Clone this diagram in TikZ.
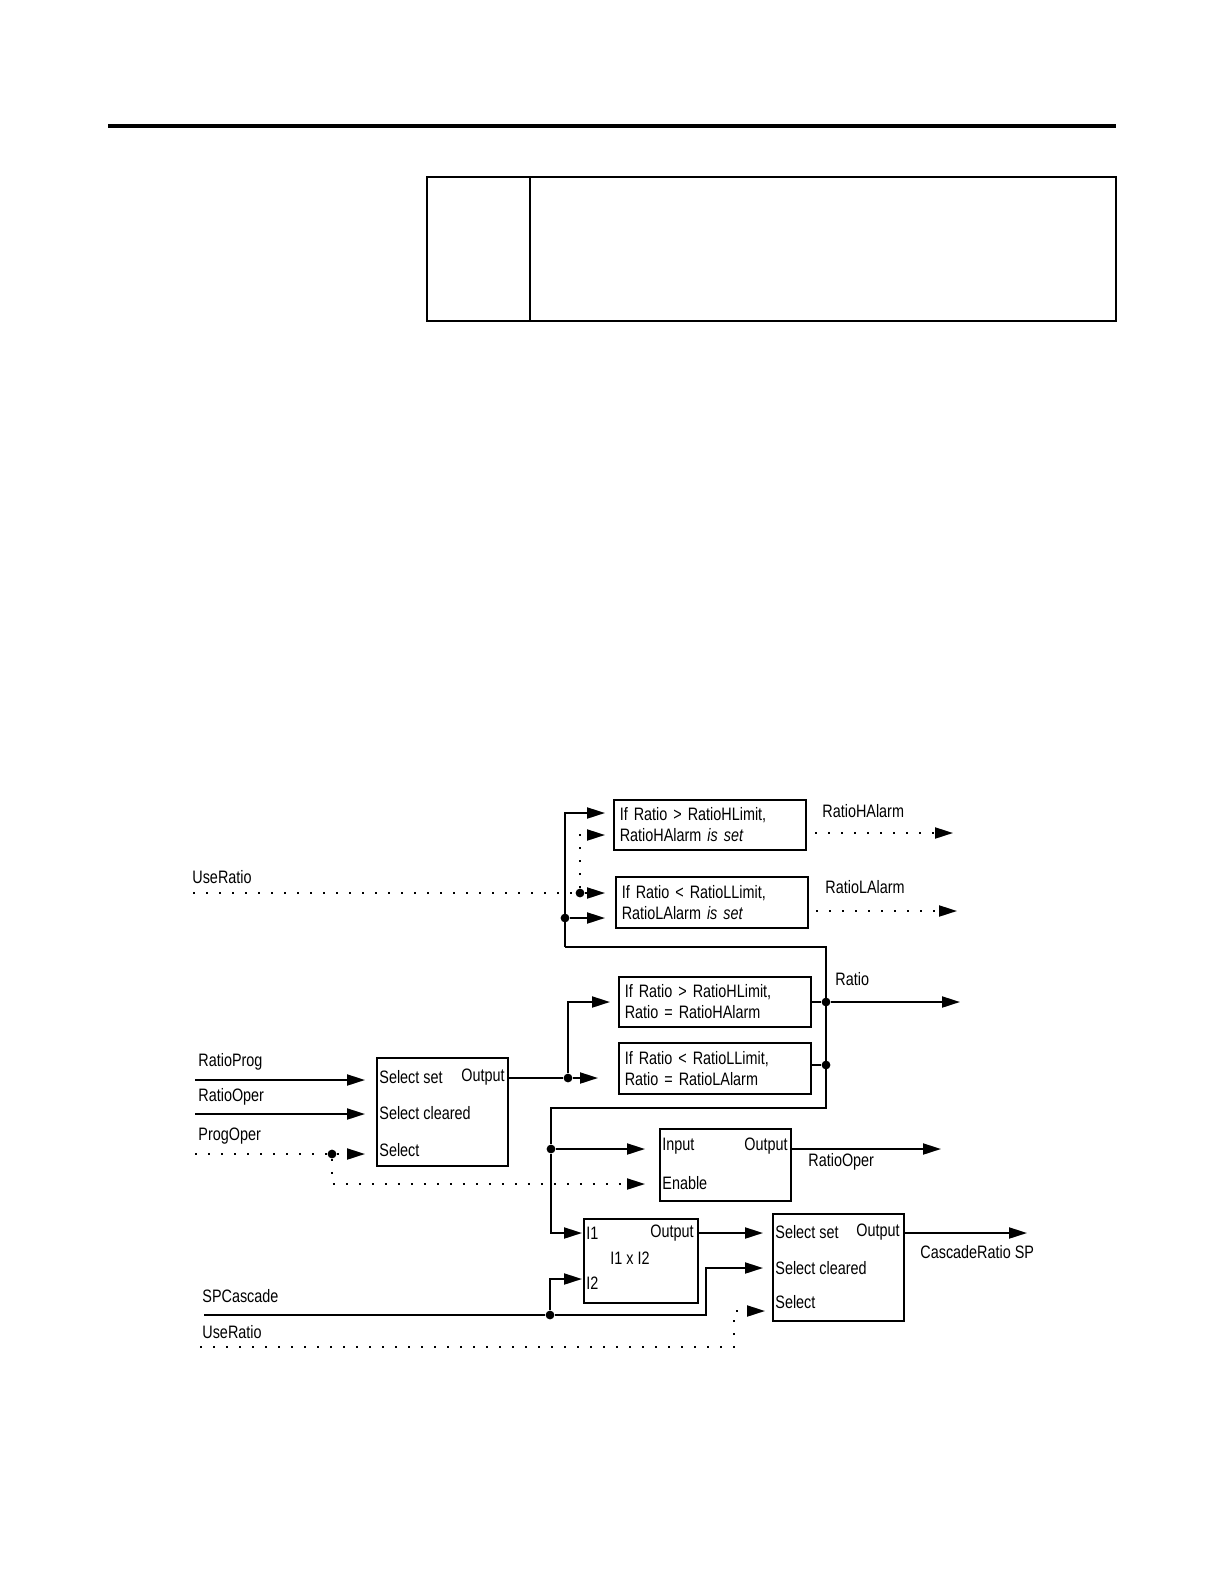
\documentclass[tikz,border=0pt]{standalone}
\usepackage{fontspec}
\setmainfont{Liberation Sans}[FakeStretch=0.8]
\usetikzlibrary{arrows.meta}

\begin{document}
\begin{tikzpicture}[
  x=0.5pt,y=-0.5pt,
  >={Triangle[length=9pt,width=5.5pt]},
  font=\fontsize{9}{10.5}\selectfont,
  wire/.style={draw,line width=1pt},
  dotwire/.style={draw,line width=1pt,dash pattern=on 1pt off 5.5pt},
  blk/.style={draw,line width=0.8pt,anchor=north west,inner sep=0pt},
  txtbox/.style={blk,align=left,inner xsep=3pt,text width=#1},
  lbl/.style={anchor=west,inner sep=0pt},
  rlbl/.style={anchor=east,inner sep=0pt},
  dot/.style={circle,fill,inner sep=0pt,minimum size=4.4pt}]

\useasboundingbox (0,0) rectangle (1224,1584);

% --- page rule and empty table ---
\fill (108,124) rectangle (1116,128);
\draw[line width=1pt] (427,177) rectangle (1116,321);
\draw[line width=1pt] (530,177) -- (530,321);

% --- alarm blocks ---
\node[txtbox=90pt,minimum height=25pt] (hiA) at (613,799)
  {If Ratio > RatioHLimit,\\ RatioHAlarm \textit{is set}};
\node[txtbox=90pt,minimum height=25.5pt] (loA) at (615,876)
  {If Ratio < RatioLLimit,\\ RatioLAlarm \textit{is set}};
\node[lbl] (hiAlbl) at (822,811) {RatioHAlarm};
\node[lbl] (loAlbl) at (825,887) {RatioLAlarm};

% --- clamp blocks ---
\node[txtbox=90pt,minimum height=25pt] (hiC) at (618,976)
  {If Ratio > RatioHLimit,\\ Ratio = RatioHAlarm};
\node[txtbox=90pt,minimum height=25.5pt] (loC) at (618,1042)
  {If Ratio < RatioLLimit,\\ Ratio = RatioLAlarm};
\node[lbl] (ratiolbl) at (835,979) {Ratio};

% --- select block (prog / oper) ---
\node[blk,minimum width=65.5pt,minimum height=54pt] (selA) at (376,1057) {};
\node[lbl]  (selAset) at (379,1077) {Select set};
\node[rlbl] (selAout) at (505,1077) {Output};
\node[lbl]  (selAclr) at (379,1113) {Select cleared};
\node[lbl]  (selAsel) at (379,1150) {Select};

% --- gate block ---
\node[blk,minimum width=65.5pt,minimum height=36pt] (gate) at (659,1128) {};
\node[lbl]  (gatein)  at (662,1146) {Input};
\node[rlbl] (gateout) at (788,1146) {Output};
\node[lbl]  (gateen)  at (662,1183) {Enable};
\node[lbl]  (operlbl) at (808,1162) {RatioOper};

% --- multiply block ---
\node[blk,minimum width=57pt,minimum height=42pt] (mul) at (583,1218) {};
\node[lbl]  (muli1)  at (586,1233) {I1};
\node[rlbl] (mulout) at (694,1233) {Output};
\node       (mulop)  at (630,1258) {I1 x I2};
\node[lbl]  (muli2)  at (586,1283) {I2};

% --- select block (cascade) ---
\node[blk,minimum width=65.5pt,minimum height=53.5pt] (selB) at (772,1213) {};
\node[lbl]  (selBset) at (775,1232) {Select set};
\node[rlbl] (selBout) at (900,1232) {Output};
\node[lbl]  (selBclr) at (775,1268) {Select cleared};
\node[lbl]  (selBsel) at (775,1302) {Select};
\node[lbl]  (caslbl)  at (920,1252) {CascadeRatio SP};

% --- input labels ---
\node[lbl] (useR1) at (192,877)  {UseRatio};
\node[lbl] (prog)  at (198,1062) {RatioProg};
\node[lbl] (oper)  at (198,1097) {RatioOper};
\node[lbl] (progop) at (198,1136) {ProgOper};
\node[lbl] (spc)   at (202,1296) {SPCascade};
\node[lbl] (useR2) at (202,1332) {UseRatio};

% --- junction dots ---
\node[dot] (jU) at (580,893) {};
\node[dot] (jR) at (565,918) {};
\node[dot] (jS) at (568,1078) {};
\node[dot] (jP) at (332,1154) {};
\node[dot] (jH) at (826,1002) {};
\node[dot] (jL) at (826,1065) {};
\node[dot] (jM) at (551,1149) {};
\node[dot] (jC) at (550,1315) {};

% --- port and end coordinates ---
\coordinate (hiAa) at (605,813);  \coordinate (hiAb) at (605,835);
\coordinate (loAa) at (605,893);  \coordinate (loAb) at (605,918);
\coordinate (hiCa) at (610,1002); \coordinate (loCa) at (598,1078);
\coordinate (useS) at (193,893);
\coordinate (topR) at (565,813);  \coordinate (botR) at (565,947);
\coordinate (turn) at (826,1108);
\coordinate (mulA) at (582,1233); \coordinate (mulB) at (582,1279);
\coordinate (hiAo) at (815,833);  \coordinate (hiAt) at (953,833);
\coordinate (loAo) at (816,911);  \coordinate (loAt) at (957,911);
\coordinate (ratT) at (960,1002);
\coordinate (progS) at (195,1080); \coordinate (progT) at (365,1080);
\coordinate (operS) at (195,1114); \coordinate (operT) at (365,1114);
\coordinate (poS) at (195,1154);   \coordinate (poT) at (365,1154);
\coordinate (enT) at (645,1184);   \coordinate (inT) at (645,1149);
\coordinate (gOut) at (790,1149);  \coordinate (gT) at (941,1149);
\coordinate (mOut) at (697,1233);  \coordinate (sBa) at (763,1233);
\coordinate (spS) at (204,1315);   \coordinate (sBb) at (763,1268);
\coordinate (u2S) at (200,1347);   \coordinate (sBc) at (765,1311);
\coordinate (sBo) at (903,1233);   \coordinate (casT) at (1027,1233);

% --- alarm wiring ---
\draw[dotwire] (useS) -- (jU);
\draw[dotwire,->] (jU) -- (loAa);
\draw[dotwire,->] (jU) |- (hiAb);
\draw[wire,->] (botR) -- (topR) -- (hiAa);
\draw[wire,->] (jR) -- (loAb);
\draw[dotwire,->] (hiAo) -- (hiAt);
\draw[dotwire,->] (loAo) -- (loAt);

% --- select A wiring ---
\draw[wire,->] (progS) -- (progT);
\draw[wire,->] (operS) -- (operT);
\draw[dotwire] (poS) -- (jP);
\draw[dotwire,->] (jP) -- (poT);
\draw[dotwire,->] (jP) |- (enT);
\draw[wire] (selA.east |- jS) -- (jS);
\draw[wire,->] (jS) -- (loCa);
\draw[wire,->] (jS) |- (hiCa);

% --- ratio wiring ---
\draw[wire] (hiC.east |- jH) -- (jH);
\draw[wire] (loC.east |- jL) -- (jL);
\draw[wire,->] (jH) -- (ratT);
\draw[wire] (botR) -| (turn) -| (jM);
\draw[wire,->] (jM) |- (mulA);
\draw[wire,->] (jM) -- (inT);
\draw[wire,->] (gOut) -- (gT);

% --- cascade wiring ---
\draw[wire] (spS) -- (jC);
\draw[wire,->] (jC) |- (mulB);
\draw[wire,->] (jC) -- (706,1315) |- (sBb);
\draw[wire,->] (mOut) -- (sBa);
\draw[dotwire,->] (u2S) -| (734,1311) -- (sBc);
\draw[wire,->] (sBo) -- (casT);

\end{tikzpicture}
\end{document}
